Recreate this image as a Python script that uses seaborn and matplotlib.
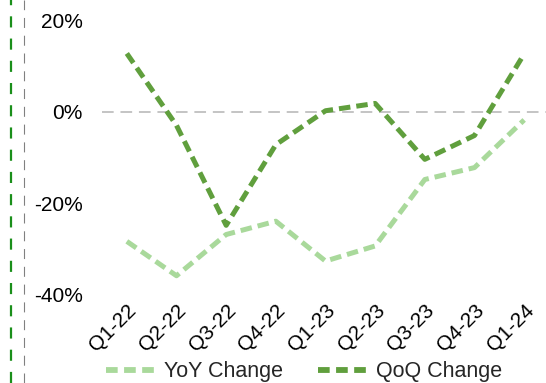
import matplotlib
matplotlib.use("Agg")
import matplotlib.pyplot as plt
import seaborn as sns
import pandas as pd
from matplotlib.lines import Line2D

quarters = ["Q1-22", "Q2-22", "Q3-22", "Q4-22", "Q1-23", "Q2-23", "Q3-23", "Q4-23", "Q1-24"]
yoy_change = [-28.3, -35.8, -26.8, -23.9, -32.6, -29.3, -14.8, -12.2, -1.8]
qoq_change = [12.7, -3.0, -24.8, -7.2, 0.2, 1.8, -10.4, -5.2, 12.6]
y_ticks = [-40, -20, 0, 20]
series_names = ["YoY Change", "QoQ Change"]

sns.set_theme(style="white")
plt.rcParams['font.family'] = ['Liberation Sans', 'DejaVu Sans']

df = pd.DataFrame({
    "Quarter": quarters * 2,
    "pos": list(range(len(quarters))) * 2,
    "Value": yoy_change + qoq_change,
    "Series": [series_names[0]] * len(quarters) + [series_names[1]] * len(quarters),
})

W, H = 546, 383
fig = plt.figure(figsize=(W / 100, H / 100), dpi=100)
ax = fig.add_axes([102 / W, 88 / H, 447 / W, 275 / H])

palette = {"YoY Change": "#a9d99b", "QoQ Change": "#609f3d"}
sns.lineplot(data=df, x="pos", y="Value", hue="Series", palette=palette,
             ax=ax, linewidth=3.6, legend=False, sort=False)
for line in ax.get_lines():
    line.set_dashes([2.3, 1.2])
    line.set_solid_capstyle("butt")
    line.set_dash_capstyle("butt")

ax.axhline(0, color="#c4c4c4", linewidth=1.4, dashes=(6, 3.5), zorder=0)

ax.set_xlim(-0.5, 8.5)
ax.set_ylim(-40, 20)
ax.set_yticks(y_ticks)
ax.set_yticklabels([f"{v}%" for v in y_ticks])
ax.set_xticks(range(len(quarters)))
ax.set_xticklabels(quarters, rotation=45, ha="right", rotation_mode="anchor")
ax.tick_params(axis="both", length=0, labelsize=15, colors="black")
ax.tick_params(axis="y", pad=14)
ax.tick_params(axis="x", pad=4)
ax.set_xlabel("")
ax.set_ylabel("")
for s in ax.spines.values():
    s.set_visible(False)
ax.patch.set_alpha(0)

handles = [Line2D([0], [0], color=palette[n], linewidth=4.2, dashes=[2.0, 1.1],
                  solid_capstyle="butt", dash_capstyle="butt") for n in series_names]
fig.legend(handles, series_names, loc="center", bbox_to_anchor=(0.557, 1 - 372 / H),
           ncol=2, frameon=False, fontsize=15.5, handlelength=2.3, columnspacing=1.6,
           handletextpad=0.4)

fig.add_artist(Line2D([11 / W, 11 / W], [0, 1], transform=fig.transFigure,
                      color="#1a8f1a", linewidth=1.6, dashes=(5, 5)))
fig.add_artist(Line2D([23.5 / W, 23.5 / W], [0, 1], transform=fig.transFigure,
                      color="#808080", linewidth=0.8, dashes=(9, 7)))

fig.savefig("out.png", dpi=100, facecolor="white")
